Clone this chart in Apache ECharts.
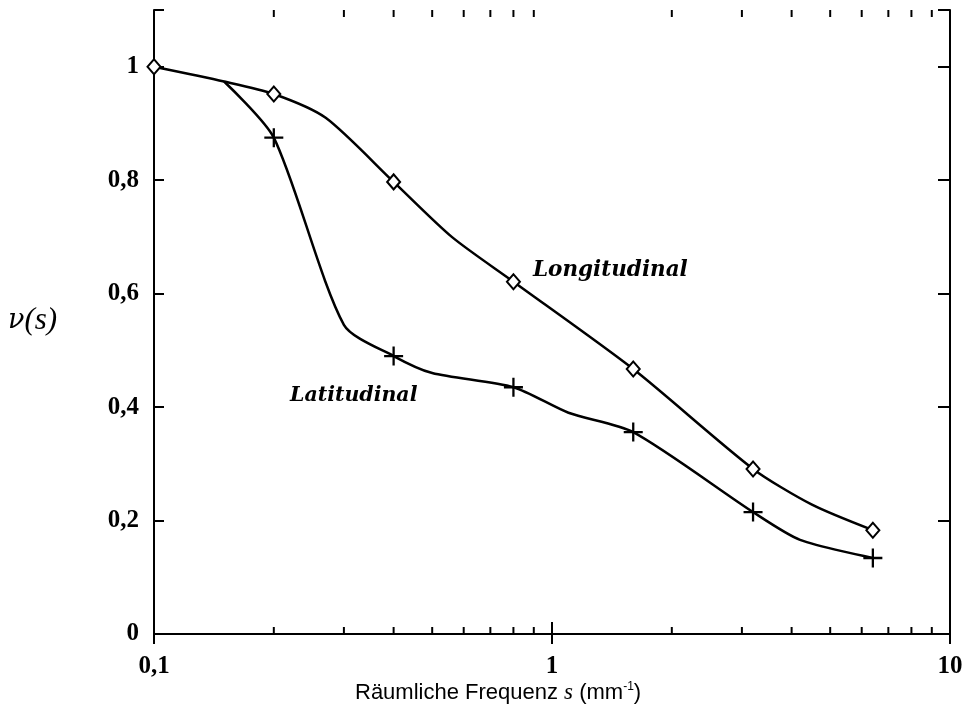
<!DOCTYPE html>
<html>
<head>
<meta charset="utf-8">
<script src="https://cdn.jsdelivr.net/npm/echarts@6/dist/echarts.min.js"></script>
<style>
  html, body { margin: 0; padding: 0; background: #fff; }
  #chart { width: 970px; height: 708px; }
</style>
</head>
<body>
<div id="chart"></div>
<script>
// Spatial frequency s (mm^-1) and modulation v(s), longitudinal direction
const longFreq   = [0.1, 0.15, 0.2, 0.27, 0.4, 0.56, 0.8, 1.6, 3.2, 4.5, 6.4];
const longValue  = [1.0, 0.974, 0.952, 0.91, 0.797, 0.70, 0.621, 0.467, 0.291, 0.228, 0.183];
const longMarked = [1, 0, 1, 0, 1, 0, 1, 1, 1, 0, 1];

// Latitudinal direction
const latFreq   = [0.15, 0.2, 0.3, 0.4, 0.5, 0.8, 1.1, 1.6, 3.2, 4.2, 6.4];
const latValue  = [0.974, 0.875, 0.545, 0.49, 0.46, 0.435, 0.39, 0.356, 0.215, 0.166, 0.134];
const latMarked = [0, 1, 0, 1, 0, 1, 0, 1, 1, 0, 1];

// Axis ticks and labels
const xMinorTicks = [0.2, 0.3, 0.4, 0.5, 0.6, 0.7, 0.8, 0.9, 2, 3, 4, 5, 6, 7, 8, 9];
const yTicks = [0, 0.2, 0.4, 0.6, 0.8, 1];

const serif = '"DejaVu Serif", "Liberation Serif", serif';
const tickFont = '"Liberation Serif", "DejaVu Serif", serif';
const sans = '"Liberation Sans", Arial, sans-serif';
const diamond = 'path://M5,0 L10,6 L5,12 L0,6 Z';
const plus = 'path://M4.4,0h1.2v4.4h4.4v1.2h-4.4v4.4h-1.2v-4.4h-4.4v-1.2h4.4z';
const ink = '#000';

function fmt(v) {
  return String(v).replace('.', ',');
}

function buildData(xs, ys, marked, symbol, size, style) {
  return xs.map((x, i) => ({
    value: [x, ys[i]],
    symbol: marked[i] ? symbol : 'none',
    symbolSize: size,
    itemStyle: style
  }));
}

const chart = echarts.init(document.getElementById('chart'), null, { renderer: 'canvas' });

const axisLine = { show: true, lineStyle: { color: ink, width: 2 } };

chart.setOption({
  animation: false,
  backgroundColor: '#fff',
  grid: { left: 154, right: 20, top: 10, bottom: 74, containLabel: false },
  xAxis: [
    {
      type: 'log', logBase: 10, min: 0.1, max: 10,
      axisLine: axisLine,
      axisTick: { show: true, inside: true, length: 12, lineStyle: { color: ink, width: 2 } },
      axisLabel: {
        show: true, margin: 20, color: ink,
        fontFamily: tickFont, fontWeight: 'bold', fontSize: 25,
        formatter: v => fmt(v)
      },
      splitLine: { show: false }
    },
    {
      type: 'log', logBase: 10, min: 0.1, max: 10, position: 'top',
      axisLine: axisLine,
      axisTick: { show: true, inside: true, length: 10, lineStyle: { color: ink, width: 2 } },
      axisLabel: { show: false },
      splitLine: { show: false }
    }
  ],
  yAxis: [
    {
      type: 'value', min: 0, max: 1.1, interval: 0.2,
      axisLine: axisLine,
      axisTick: { show: true, inside: true, length: 10, lineStyle: { color: ink, width: 2 } },
      axisLabel: {
        show: true, margin: 15, color: ink,
        fontFamily: tickFont, fontWeight: 'bold', fontSize: 25,
        formatter: v => (yTicks.indexOf(Math.round(v * 10) / 10) >= 0 ? fmt(Math.round(v * 10) / 10) : '')
      },
      splitLine: { show: false }
    },
    {
      type: 'value', min: 0, max: 1.1, interval: 0.2, position: 'right',
      axisLine: axisLine,
      axisTick: { show: true, inside: true, length: 12, lineStyle: { color: ink, width: 2 } },
      axisLabel: { show: false },
      splitLine: { show: false }
    }
  ],
  graphic: [
    {
      type: 'text', left: 8, top: 305,
      style: {
        text: '{n|ν}{p|(s)}',
        rich: {
          n: { fontFamily: '"DejaVu Serif", serif', fontStyle: 'italic', fontSize: 27, fill: ink },
          p: { fontFamily: '"Liberation Serif", serif', fontStyle: 'italic', fontSize: 31, fill: ink }
        }
      }
    },
    {
      type: 'text', left: 355, top: 681,
      style: {
        text: '{a|Räumliche Frequenz }{i|s}{a| (mm}{sup|-1}{a|)}',
        rich: {
          a: { fontFamily: sans, fontSize: 22, fill: ink },
          i: { fontFamily: '"Liberation Serif", serif', fontStyle: 'italic', fontSize: 23, fill: ink },
          sup: { fontFamily: sans, fontSize: 12, fill: ink, verticalAlign: 'top', padding: [0, 0, 10, 0] }
        }
      }
    },
    {
      type: 'text', left: 533, top: 259,
      style: { text: 'Longitudinal', font: 'italic bold 21.5px ' + serif, fill: ink }
    },
    {
      type: 'text', left: 290, top: 386,
      style: { text: 'Latitudinal', font: 'italic bold 20.5px ' + serif, fill: ink }
    }
  ],
  series: [
    {
      type: 'custom',
      name: 'minor ticks',
      silent: true,
      data: xMinorTicks.map(v => [v]),
      renderItem: function (params, api) {
        const x = api.coord([api.value(0), 0])[0];
        const yb = api.coord([api.value(0), 0])[1];
        const yt = api.coord([api.value(0), 1.1])[1];
        return {
          type: 'group',
          children: [
            { type: 'line', shape: { x1: x, y1: yb, x2: x, y2: yb - 7 }, style: { stroke: ink, lineWidth: 2 } },
            { type: 'line', shape: { x1: x, y1: yt, x2: x, y2: yt + 7 }, style: { stroke: ink, lineWidth: 2 } }
          ]
        };
      },
      z: 1
    },
    {
      type: 'line',
      name: 'Latitudinal',
      smooth: 0.25,
      data: buildData(latFreq, latValue, latMarked, plus, 19, { color: ink }),
      lineStyle: { color: ink, width: 2.5 },
      showSymbol: true,
      z: 3
    },
    {
      type: 'line',
      name: 'Longitudinal',
      smooth: 0.25,
      data: buildData(longFreq, longValue, longMarked, diamond, [13, 15], { color: '#fff', borderColor: ink, borderWidth: 2 }),
      lineStyle: { color: ink, width: 2.5 },
      showSymbol: true,
      z: 4
    }
  ]
});
</script>
</body>
</html>
